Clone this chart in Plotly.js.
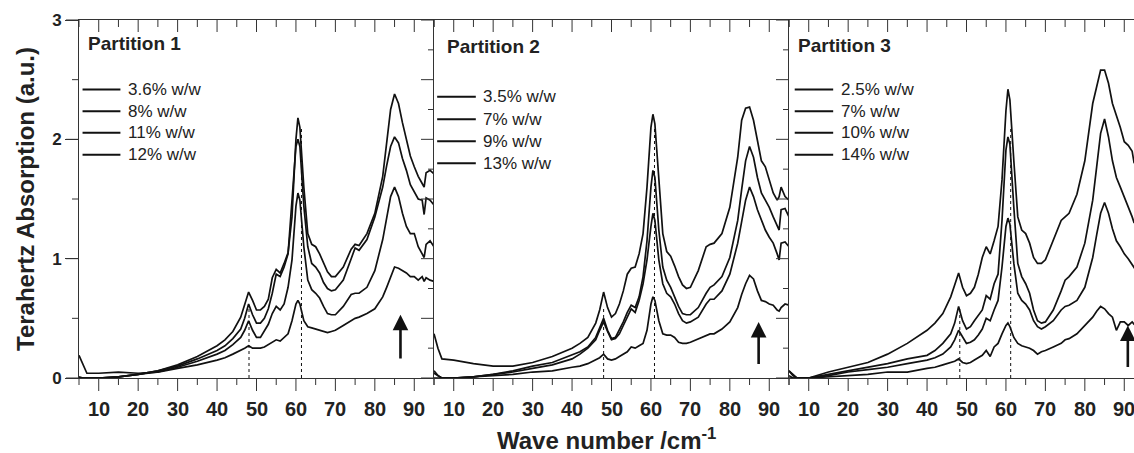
<!DOCTYPE html>
<html>
<head>
<meta charset="utf-8">
<script src="https://cdn.plot.ly/plotly-3.0.1.min.js"></script>
<style>
html, body { margin:0; padding:0; overflow:hidden; background:#fff; }
#plot { width:1160px; height:453px; }
</style>
</head>
<body>
<div id="plot"></div>
<script>
// wave number grid (cm^-1)
const WN = [5,6,7,10,15,20,25,30,35,40, 42,44,46,47,48,49,50,51,52,53, 54,55,56,57,58,59,60,60.5,61,62, 63,64,65,66,67,68,69,70,72,74, 75,76,78,80,82,83,84,85,86,87, 88,89,90,91,92,92.5,93,94,95];

// Partition 1
const P1_LABELS = ["3.6% w/w","8% w/w","11% w/w","12% w/w"];
const p1a = [0.01,0,0,0,0.01,0.03,0.06,0.11,0.18,0.27, 0.32,0.39,0.51,0.62,0.72,0.65,0.57,0.57,0.6,0.66, 0.84,0.91,0.88,0.96,1.05,1.35,2.0,2.18,2.1,1.6, 1.21,1.12,1.1,1.04,0.96,0.89,0.85,0.85,0.93,1.08, 1.12,1.11,1.21,1.38,1.69,1.97,2.25,2.38,2.3,2.14, 2.0,1.86,1.77,1.69,1.63,1.6,1.72,1.74,1.71];
const p1b = [0,0,0,0,0.01,0.03,0.06,0.1,0.16,0.23, 0.27,0.33,0.41,0.5,0.62,0.53,0.46,0.46,0.5,0.58, 0.71,0.87,0.85,0.93,1.04,1.49,1.94,2.0,1.94,1.44, 1.1,0.96,0.93,0.88,0.8,0.75,0.73,0.74,0.82,1.0, 1.09,1.07,1.16,1.35,1.6,1.78,1.94,2.02,1.97,1.84, 1.74,1.62,1.56,1.5,1.49,1.37,1.51,1.49,1.45];
const p1c = [0,0,0,0,0.01,0.03,0.05,0.09,0.14,0.2, 0.23,0.28,0.34,0.4,0.48,0.4,0.34,0.34,0.39,0.45, 0.54,0.6,0.57,0.62,0.76,0.99,1.44,1.55,1.49,1.1, 0.82,0.74,0.71,0.67,0.6,0.54,0.53,0.53,0.6,0.7, 0.71,0.71,0.76,0.9,1.16,1.35,1.52,1.6,1.52,1.38, 1.27,1.21,1.21,1.1,1.04,1.01,1.12,1.15,1.1];
const p1d = [0.19,0.12,0.04,0.04,0.05,0.04,0.05,0.08,0.11,0.15, 0.17,0.2,0.23,0.25,0.27,0.25,0.25,0.25,0.26,0.28, 0.3,0.32,0.31,0.34,0.37,0.48,0.62,0.65,0.62,0.48, 0.43,0.42,0.41,0.4,0.39,0.38,0.39,0.4,0.44,0.48, 0.5,0.51,0.54,0.58,0.68,0.76,0.85,0.93,0.92,0.9, 0.88,0.85,0.85,0.82,0.85,0.81,0.84,0.82,0.81];

// Partition 2
const P2_LABELS = ["3.5% w/w","7% w/w","9% w/w","13% w/w"];
const p2a = [0.37,0.25,0.16,0.15,0.12,0.1,0.1,0.13,0.18,0.25, 0.29,0.34,0.46,0.57,0.72,0.59,0.51,0.54,0.62,0.73, 0.87,0.92,0.93,1.04,1.21,1.6,2.1,2.21,2.13,1.66, 1.21,1.06,1.02,0.94,0.85,0.78,0.75,0.76,0.9,1.1, 1.12,1.13,1.21,1.43,1.85,2.16,2.26,2.27,2.16,1.99, 1.82,1.77,1.66,1.55,1.49,1.52,1.6,1.52,1.49];
const p2b = [0.06,0.02,0,0,0.01,0.03,0.06,0.1,0.13,0.19, 0.22,0.26,0.34,0.42,0.5,0.4,0.33,0.34,0.4,0.47, 0.55,0.61,0.59,0.68,0.85,1.15,1.6,1.74,1.68,1.24, 0.93,0.82,0.76,0.68,0.6,0.54,0.53,0.53,0.59,0.71, 0.76,0.78,0.85,1.01,1.32,1.58,1.82,1.94,1.85,1.68, 1.55,1.49,1.43,1.35,1.27,1.24,1.41,1.42,1.35];
const p2c = [0,0,0,0,0.01,0.03,0.05,0.08,0.11,0.16, 0.2,0.25,0.32,0.4,0.47,0.39,0.32,0.33,0.37,0.44, 0.51,0.58,0.55,0.65,0.79,0.99,1.27,1.38,1.32,0.99, 0.79,0.71,0.68,0.62,0.54,0.48,0.46,0.47,0.51,0.62, 0.66,0.66,0.73,0.87,1.13,1.32,1.49,1.6,1.52,1.41, 1.32,1.24,1.18,1.13,1.04,0.99,1.13,1.14,1.1];
const p2d = [0.04,0.02,0,0,0.01,0.02,0.03,0.05,0.06,0.09, 0.1,0.12,0.15,0.17,0.2,0.16,0.15,0.16,0.18,0.2, 0.22,0.26,0.25,0.27,0.29,0.4,0.62,0.68,0.65,0.48, 0.37,0.36,0.36,0.34,0.3,0.29,0.29,0.3,0.33,0.36, 0.37,0.37,0.41,0.47,0.59,0.7,0.79,0.86,0.83,0.73, 0.65,0.64,0.62,0.61,0.57,0.56,0.59,0.62,0.61];

// Partition 3
const P3_LABELS = ["2.5% w/w","7% w/w","10% w/w","14% w/w"];
const p3a = [0.06,0.02,0,0,0.05,0.09,0.13,0.2,0.29,0.4, 0.46,0.54,0.68,0.78,0.88,0.76,0.69,0.71,0.76,0.87, 1.01,1.1,1.04,1.15,1.27,1.66,2.24,2.42,2.33,1.82, 1.35,1.24,1.21,1.13,1.01,0.96,0.96,0.99,1.15,1.32, 1.35,1.38,1.54,1.82,2.3,2.44,2.58,2.58,2.47,2.3, 2.2,2.1,1.98,1.95,1.9,1.8,1.85,1.78,1.72];
const p3b = [0.02,0,0,0,0.03,0.06,0.09,0.12,0.16,0.19, 0.23,0.29,0.37,0.46,0.6,0.48,0.41,0.43,0.48,0.53, 0.57,0.69,0.66,0.79,0.87,1.32,1.91,2.02,1.96,1.43, 0.96,0.85,0.79,0.71,0.57,0.48,0.46,0.47,0.57,0.73, 0.82,0.85,0.93,1.13,1.49,1.77,2.05,2.17,2.02,1.82, 1.68,1.6,1.52,1.43,1.35,1.3,1.32,1.27,1.24];
const p3c = [0,0,0,0,0.02,0.05,0.07,0.09,0.12,0.15, 0.17,0.2,0.26,0.32,0.4,0.34,0.29,0.3,0.32,0.36, 0.41,0.5,0.48,0.57,0.65,0.93,1.27,1.34,1.29,0.96, 0.71,0.65,0.62,0.57,0.48,0.43,0.41,0.43,0.48,0.57, 0.6,0.61,0.65,0.76,1.01,1.2,1.38,1.47,1.38,1.25, 1.15,1.1,1.04,1.0,0.95,0.92,0.9,0.87,0.85];
const p3d = [0.06,0.03,0,0,0.01,0.02,0.03,0.05,0.05,0.08, 0.09,0.11,0.13,0.14,0.16,0.13,0.12,0.13,0.15,0.17, 0.19,0.23,0.18,0.26,0.29,0.37,0.44,0.46,0.43,0.34, 0.29,0.27,0.26,0.25,0.23,0.2,0.22,0.23,0.26,0.29, 0.32,0.33,0.37,0.44,0.51,0.56,0.6,0.58,0.54,0.51, 0.4,0.47,0.47,0.44,0.47,0.45,0.44,0.41,0.4];

const PANEL_TITLES = ["Partition 1","Partition 2","Partition 3"];
const BAND_LO = [48.1, 48.0, 48.3];
const BAND_HI = [61.4, 60.9, 61.2];
const ARROW_X = [86.5, 87.3, 90.9];
const ARROW_Y0 = [0.15, 0.105, 0.08];
const ARROW_Y1 = [0.53, 0.47, 0.44];

// axis ticks
const X_RANGE = [5, 95];
const Y_RANGE = [0, 3];
const X_MAJOR = [10,20,30,40,50,60,70,80,90];
const X_MINOR = [5,15,25,35,45,55,65,75,85,95];
const Y_LEFT_MAJOR = [0,1,2,3];
const Y_LEFT_MINOR = [0.5,1.5,2.5];
const Y_INNER_MAJOR = [0,0.5,1,1.5,2,2.5,3];
const Y_INNER_MINOR = [0.25,0.75,1.25,1.75,2.25,2.75];

// page geometry
const W = 1160, H = 453;
const M = {l: 79, r: 16, t: 20, b: 75};
const PW = W - M.l - M.r;   // plot area width in px
const PH = H - M.t - M.b;   // plot area height in px

const panels = [
  {ser:[p1a,p1b,p1c,p1d], labels:P1_LABELS, legX0:5.9, legX1:15.5, txtX:16.9, rows:[2.418,2.236,2.055,1.87], titleX:6.7, titleY:2.80},
  {ser:[p2a,p2b,p2c,p2d], labels:P2_LABELS, legX0:5.8, legX1:15.6, txtX:16.9, rows:[2.356,2.168,1.984,1.80], titleX:7.7, titleY:2.78},
  {ser:[p3a,p3b,p3c,p3d], labels:P3_LABELS, legX0:6.45, legX1:16.2, txtX:17.6, rows:[2.418,2.236,2.055,1.87], titleX:6.9, titleY:2.79}
];
const dom = [[0, 1/3], [1/3, 2/3], [2/3, 1]];

const INK = '#111';
const AX = '#333';
const FONT = 'Liberation Sans, Arial, Helvetica, sans-serif';

const traces = [];
const shapes = [];
const annotations = [];

function xPaper(i, v) { return dom[i][0] + (v - X_RANGE[0]) / (X_RANGE[1] - X_RANGE[0]) * (dom[i][1] - dom[i][0]); }
function yPaper(v) { return (v - Y_RANGE[0]) / (Y_RANGE[1] - Y_RANGE[0]); }
function xTick(i, v, atTop, len) {
  const base = atTop ? 1 : 0;
  shapes.push({type:'line', xref:'paper', yref:'paper', x0:xPaper(i, v), x1:xPaper(i, v),
    y0:base, y1:base - len / PH, line:{color:AX, width:1}});
}
function yTick(xp, v, len) {
  shapes.push({type:'line', xref:'paper', yref:'paper', y0:yPaper(v), y1:yPaper(v),
    x0:xp, x1:xp - len / PW, line:{color:AX, width:1}});
}

panels.forEach((p, i) => {
  const xr = i === 0 ? 'x' : 'x' + (i + 1);
  const yr = i === 0 ? 'y' : 'y' + (i + 1);
  p.ser.forEach((s, k) => {
    traces.push({x: WN, y: s, type: 'scatter', mode: 'lines', name: p.labels[k],
      xaxis: xr, yaxis: yr, showlegend: false,
      line: {color: INK, width: 1.7}});
    shapes.push({type:'line', xref:xr, yref:yr, x0:p.legX0, x1:p.legX1, y0:p.rows[k], y1:p.rows[k],
      line:{color:INK, width:2}});
    annotations.push({xref:xr, yref:yr, x:p.txtX, y:p.rows[k], text:p.labels[k], showarrow:false,
      xanchor:'left', yanchor:'middle', font:{family:FONT, size:17, color:'#222'}});
  });
  shapes.push({type:'line', xref:xr, yref:yr, x0:BAND_LO[i], x1:BAND_LO[i], y0:0, y1:0.6, layer:'below',
    line:{color:INK, width:1, dash:'dot'}});
  shapes.push({type:'line', xref:xr, yref:yr, x0:BAND_HI[i], x1:BAND_HI[i], y0:0, y1:2.1, layer:'below',
    line:{color:INK, width:1, dash:'dot'}});
  annotations.push({xref:xr, yref:yr, x:p.titleX, y:p.titleY, text:PANEL_TITLES[i], showarrow:false,
    xanchor:'left', yanchor:'middle', font:{family:FONT, size:19, weight:'bold', color:'#222'}});
  annotations.push({xref:xr, yref:yr, x:ARROW_X[i], y:ARROW_Y1[i], axref:xr, ayref:yr,
    ax:ARROW_X[i], ay:ARROW_Y0[i], text:'', showarrow:true, arrowhead:2, arrowsize:1.2,
    arrowwidth:2.6, arrowcolor:INK});
  // x ticks: outward at bottom, inward at top
  X_MAJOR.forEach(v => { xTick(i, v, false, 13); xTick(i, v, true, 12); });
  X_MINOR.forEach(v => { xTick(i, v, false, 7); xTick(i, v, true, 7); });
  // x tick labels, placed below the ticks
  X_MAJOR.forEach(v => {
    annotations.push({xref:xr, yref:'paper', x:v, y:-31 / PH, text:String(v), showarrow:false,
      xanchor:'center', yanchor:'middle', font:{family:FONT, size:20, weight:'bold', color:'#222'}});
  });
  // y ticks on the left edge of each panel
  if (i === 0) {
    Y_LEFT_MAJOR.forEach(v => yTick(dom[0][0], v, 13));
    Y_LEFT_MINOR.forEach(v => yTick(dom[0][0], v, 7));
  } else {
    Y_INNER_MAJOR.forEach(v => yTick(dom[i][0], v, 13));
    Y_INNER_MINOR.forEach(v => yTick(dom[i][0], v, 6));
  }
});

annotations.push({xref:'paper', yref:'paper', x:0.5, xshift:-5, y:-61 / PH,
  text:'Wave number /cm<sup>-1</sup>', showarrow:false, xanchor:'center', yanchor:'middle',
  font:{family:FONT, size:24, weight:'bold', color:'#222'}});

const layout = {
  width: W, height: H,
  margin: M,
  paper_bgcolor: '#fff', plot_bgcolor: '#fff',
  showlegend: false,
  shapes: shapes, annotations: annotations
};
function bottomX(i) {
  return {
    domain: dom[i], range: X_RANGE, anchor: i === 0 ? 'y' : 'y' + (i + 1),
    showline: true, linecolor: AX, linewidth: 1, mirror: true,
    ticks: '', showticklabels: false, showgrid: false, zeroline: false
  };
}
layout.xaxis = bottomX(0);
layout.xaxis2 = bottomX(1);
layout.xaxis3 = bottomX(2);

layout.yaxis = {
  domain: [0, 1], range: Y_RANGE, anchor: 'x',
  showline: true, linecolor: AX, linewidth: 1,
  ticks: 'outside', ticklen: 13, tickcolor: AX, tickwidth: 1,
  dtick: 1, showgrid: false, zeroline: false,
  tickfont: {family: FONT, size: 17, weight: 'bold', color: '#222'},
  title: {text: 'Terahertz Absorption (a.u.)', standoff: 10,
    font: {family: FONT, size: 24, weight: 'bold', color: '#222'}}
};
function innerY(i) {
  return {
    domain: [0, 1], range: Y_RANGE, anchor: 'x' + (i + 1),
    showline: true, linecolor: AX, linewidth: 1,
    ticks: '', showticklabels: false, showgrid: false, zeroline: false
  };
}
layout.yaxis2 = innerY(1);
layout.yaxis3 = innerY(2);

Plotly.newPlot('plot', traces, layout, {displayModeBar: false, staticPlot: true});
</script>
</body>
</html>
